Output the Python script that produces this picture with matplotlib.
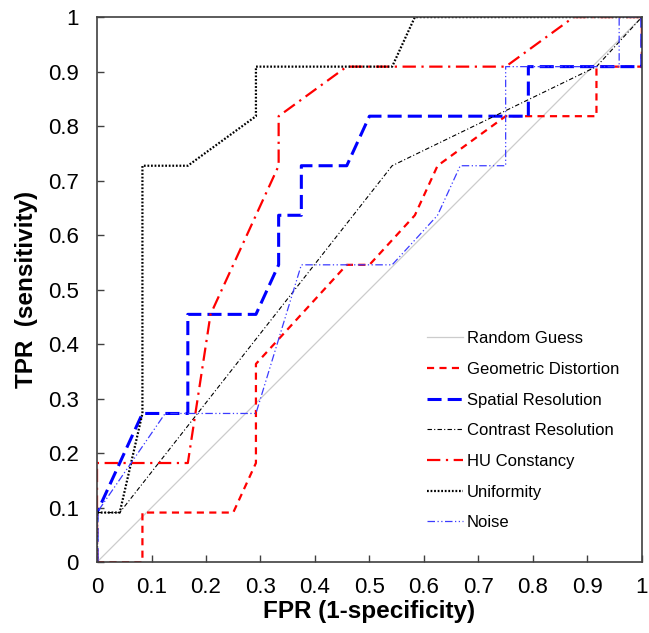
import matplotlib
matplotlib.use("Agg")
import matplotlib.pyplot as plt

plt.rcParams['font.family'] = ['Liberation Sans', 'DejaVu Sans']

N = 24.0
P = 11.0

random_x = [0, 1]
random_y = [0, 1]

geo_x = [0, 2, 2, 6, 7, 7, 11, 12, 14, 15, 18, 22, 22, 24, 24]
geo_y = [0, 0, 1, 1, 2, 4, 6, 6, 7, 8, 9, 9, 10, 10, 11]

spat_x = [0, 0, 2, 4, 4, 7, 8, 8, 9, 9, 11, 12, 19, 19, 24, 24]
spat_y = [0, 1, 3, 3, 5, 5, 6, 7, 7, 8, 8, 9, 9, 10, 10, 11]

con_x = [0, 0, 1, 13, 22, 24]
con_y = [0, 1, 1, 8, 10, 11]

hu_x = [0, 0, 4, 5, 8, 8, 11, 18, 21, 24]
hu_y = [0, 2, 2, 5, 8, 9, 10, 10, 11, 11]

uni_x = [0, 0, 1, 2, 2, 4, 7, 7, 13, 14, 24]
uni_y = [0, 1, 1, 3, 8, 8, 9, 10, 10, 11, 11]

noise_x = [0, 0, 3, 7, 9, 13, 15, 16, 18, 18, 23, 23, 24]
noise_y = [0, 1, 3, 3, 6, 6, 7, 8, 8, 10, 10, 11, 11]

ticks = [0, 0.1, 0.2, 0.3, 0.4, 0.5, 0.6, 0.7, 0.8, 0.9, 1]
tick_labels = ['0', '0.1', '0.2', '0.3', '0.4', '0.5', '0.6', '0.7', '0.8', '0.9', '1']


def fx(v):
    return [a / N for a in v]


def fy(v):
    return [a / P for a in v]


fig = plt.figure(figsize=(6.49, 6.33), dpi=100)
ax = fig.add_axes([0.1495, 0.112, 0.8395, 0.861])

ax.plot(random_x, random_y, color='#cccccc', lw=0.9, label='Random Guess')
ax.plot(fx(geo_x), fy(geo_y), color='#ff0000', lw=1.6, dashes=(3.2, 2.4), label='Geometric Distortion')
ax.plot(fx(spat_x), fy(spat_y), color='#0000ff', lw=2.2, dashes=(4.6, 2.0), label='Spatial Resolution')
ax.plot(fx(con_x), fy(con_y), color='black', lw=0.8, dashes=(4, 2, 1, 2), label='Contrast Resolution')
ax.plot(fx(hu_x), fy(hu_y), color='#ff0000', lw=1.6, dashes=(6, 2.5, 1, 2.5), label='HU Constancy')
ax.plot(fx(uni_x), fy(uni_y), color='black', lw=1.6, dashes=(0.8, 0.8), label='Uniformity')
ax.plot(fx(noise_x), fy(noise_y), color='#3b3bff', lw=0.9, dashes=(6, 2, 1, 2, 1, 2), label='Noise')

ax.set_xlim(0, 1)
ax.set_ylim(0, 1)
ax.set_xticks(ticks)
ax.set_xticklabels(tick_labels)
ax.set_yticks(ticks)
ax.set_yticklabels(tick_labels)
ax.tick_params(direction='in', length=5, width=1, labelsize=16, color='#404040')
ax.tick_params(axis='x', pad=11)
ax.tick_params(axis='y', pad=13)
for s in ax.spines.values():
    s.set_color('#404040')
    s.set_linewidth(1.2)

ax.set_xlabel('FPR (1-specificity)', fontsize=17.5, fontweight='bold', labelpad=1)
ax.set_ylabel('TPR  (sensitivity)', fontsize=17.5, fontweight='bold', labelpad=7)

leg = ax.legend(loc='upper left', bbox_to_anchor=(0.578, 0.451), frameon=False,
                fontsize=12, handlelength=2.16, labelspacing=0.94, handletextpad=0.25)

fig.savefig('out.png', dpi=100)
